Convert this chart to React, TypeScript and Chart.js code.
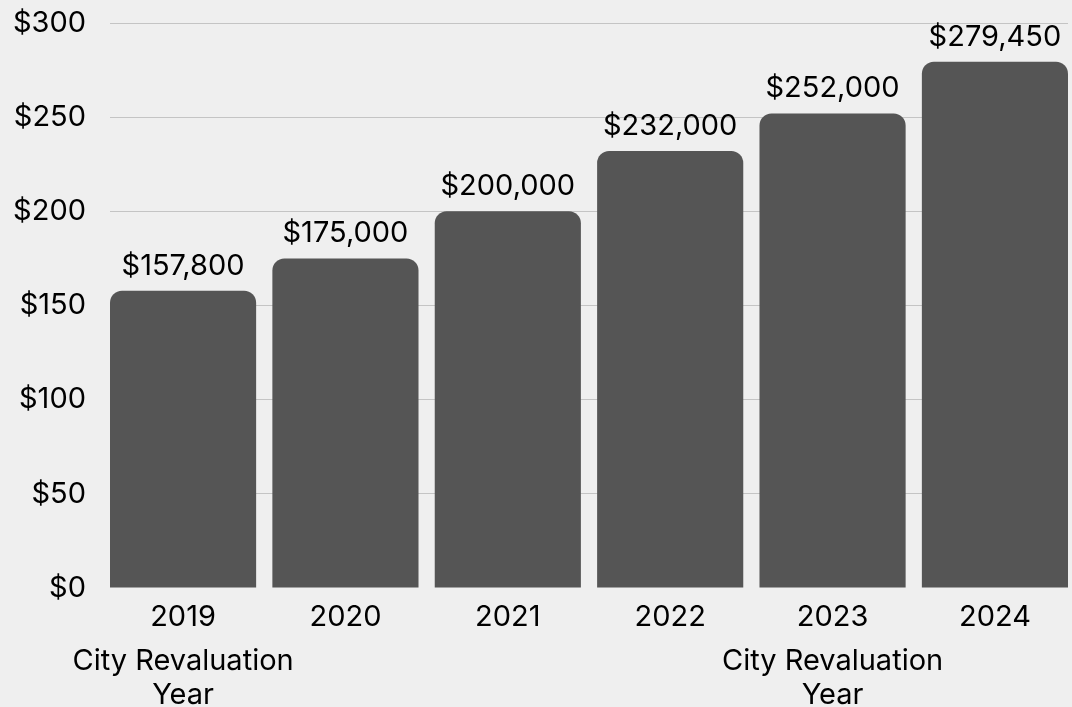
import React, { useEffect, useRef } from "react";
import { Chart, registerables } from "chart.js";

Chart.register(...registerables);

const years = ["2019", "2020", "2021", "2022", "2023", "2024"];
const notes: string[][] = [
  ["City Revaluation", "Year"],
  [""],
  [""],
  [""],
  ["City Revaluation", "Year"],
  [""],
];
const values = [157.8, 175, 200, 232, 252, 279.45];
const valueLabels = ["$157,800", "$175,000", "$200,000", "$232,000", "$252,000", "$279,450"];
const yTickValues = [0, 50, 100, 150, 200, 250, 300];

const FONT = "Inter";
const FONT_SIZE = 29;

const valueLabelPlugin = {
  id: "valueLabels",
  afterDatasetsDraw(chart: any) {
    const ctx = chart.ctx;
    const meta = chart.getDatasetMeta(0);
    ctx.save();
    ctx.font = `${FONT_SIZE}px ${FONT}`;
    ctx.fillStyle = "#000000";
    ctx.textAlign = "center";
    ctx.textBaseline = "alphabetic";
    meta.data.forEach((el: any, i: number) => {
      ctx.fillText(valueLabels[i], el.x, el.y - 16);
    });
    ctx.restore();
  },
};

export default function App() {
  const ref = useRef<HTMLCanvasElement>(null);

  useEffect(() => {
    if (!ref.current) return;
    const chart = new Chart(ref.current, {
      type: "bar",
      data: {
        datasets: [
          {
            data: values.map((v, i) => ({ x: i, y: v })),
            backgroundColor: "#555555",
            borderRadius: 12,
            borderSkipped: "bottom",
            barPercentage: 0.9,
            categoryPercentage: 1,
          },
        ],
      },
      plugins: [valueLabelPlugin],
      options: {
        animation: false,
        responsive: true,
        maintainAspectRatio: false,
        layout: { padding: { top: 23, right: 4, left: 0, bottom: 0 } },
        plugins: {
          legend: { display: false },
          tooltip: { enabled: false },
        },
        scales: {
          x: {
            type: "linear",
            position: "bottom",
            offset: false,
            min: -0.45,
            max: 5.45,
            grid: { display: false },
            border: { display: false },
            afterBuildTicks: (s: any) => {
              s.ticks = years.map((_, i) => ({ value: i }));
            },
            afterFit: (s: any) => {
              s.height = 46;
              s.paddingLeft = 0;
              s.paddingRight = 0;
            },
            ticks: {
              autoSkip: false,
              maxRotation: 0,
              padding: 4,
              color: "#000000",
              font: { family: FONT, size: FONT_SIZE },
              callback: (v: any) => years[v as number] ?? "",
            },
          },
          x2: {
            type: "linear",
            position: "bottom",
            offset: false,
            min: -0.45,
            max: 5.45,
            grid: { display: false },
            border: { display: false },
            afterBuildTicks: (s: any) => {
              s.ticks = years.map((_, i) => ({ value: i }));
            },
            afterFit: (s: any) => {
              s.height = 73;
              s.paddingLeft = 0;
              s.paddingRight = 0;
            },
            ticks: {
              autoSkip: false,
              maxRotation: 0,
              padding: 2,
              color: "#000000",
              font: { family: FONT, size: FONT_SIZE, lineHeight: "34px" },
              callback: (v: any) => notes[v as number] ?? "",
            },
          },
          y: {
            min: 0,
            max: 300,
            afterBuildTicks: (s: any) => {
              s.ticks = yTickValues.map((v) => ({ value: v }));
            },
            afterFit: (s: any) => {
              s.width = 110;
              s.paddingTop = 0;
              s.paddingBottom = 0;
            },
            grid: {
              drawTicks: false,
              color: (c: any) => (c.tick && c.tick.value === 0 ? "rgba(0,0,0,0)" : "#c4c4c4"),
              lineWidth: 1,
            },
            border: { display: false },
            ticks: {
              padding: 24,
              color: "#000000",
              font: { family: FONT, size: FONT_SIZE },
              callback: (v: any) => `$${v}`,
            },
          },
        },
      },
    });
    return () => chart.destroy();
  }, []);

  return (
    <div
      style={{
        position: "fixed",
        left: 0,
        top: 0,
        width: 1072,
        height: 707,
        background: "#efefef",
      }}
    >
      <canvas ref={ref} />
    </div>
  );
}
